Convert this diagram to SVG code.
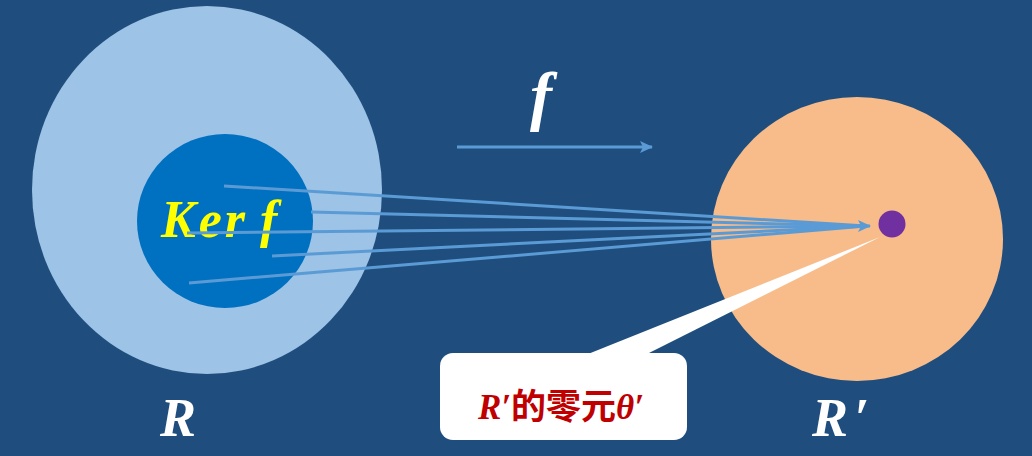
<svg xmlns="http://www.w3.org/2000/svg" width="1032" height="456" viewBox="0 0 1032 456">
<defs>
<marker id="ah" markerWidth="14" markerHeight="14" refX="12" refY="6" orient="auto" markerUnits="userSpaceOnUse">
<path d="M0,0 L13,6 L0,12 L3,6 Z" fill="#5b9bd5"/>
</marker>
<style>
.ln{stroke:#5b9bd5;stroke-width:3;fill:none}
.mth{font-family:"Liberation Serif","DejaVu Serif",serif;font-style:italic;font-weight:bold}
</style>
</defs>
<rect width="1032" height="456" fill="#1f4e7e"/>
<g id="R">
<ellipse cx="207" cy="190" rx="175" ry="184" fill="#9dc3e6"/>
<text class="mth" x="178" y="436" font-size="54" fill="#ffffff" text-anchor="middle">R</text>
</g>
<g id="Rp">
<ellipse cx="857" cy="239" rx="146" ry="142" fill="#f8bc8a"/>
<text class="mth" x="812" y="436" font-size="54" fill="#ffffff">R<tspan dx="6">′</tspan></text>
</g>
<g id="ker">
<ellipse cx="225" cy="221" rx="88" ry="87" fill="#0070c0"/>
</g>
<g id="zero">
<circle cx="892" cy="224" r="13.5" fill="#7030a0"/>
</g>
<g id="kerlabel">
<text class="mth" x="161" y="237" font-size="52" fill="#ffff00" letter-spacing="3">Ker<tspan x="260">f</tspan></text>
</g>
<g id="connectors">
<line class="ln" x1="224" y1="186" x2="866" y2="226"/>
<line class="ln" x1="311" y1="212" x2="866" y2="226"/>
<line class="ln" x1="187" y1="233" x2="866" y2="226"/>
<line class="ln" x1="272" y1="256" x2="866" y2="226"/>
<line class="ln" x1="189" y1="283" x2="866" y2="226"/>
<line class="ln" x1="800" y1="226" x2="870" y2="226" marker-end="url(#ah)"/>
<line class="ln" x1="457" y1="147" x2="652" y2="147" marker-end="url(#ah)"/>
</g>
<g id="flabel">
<text class="mth" x="541" y="118" font-size="66" fill="#ffffff" text-anchor="middle">f</text>
</g>
<g id="callout">
<path d="M583,356 L880,237 L643,356 Z" fill="#ffffff"/>
<rect x="440" y="353" width="247" height="87" rx="13" fill="#ffffff"/>
<text x="561" y="419" font-size="35" fill="#c00000" text-anchor="middle" font-weight="bold" font-family="'Liberation Sans','Noto Sans CJK SC',sans-serif"><tspan class="mth">R′</tspan>的零元<tspan class="mth">θ′</tspan></text>
</g>
</svg>
